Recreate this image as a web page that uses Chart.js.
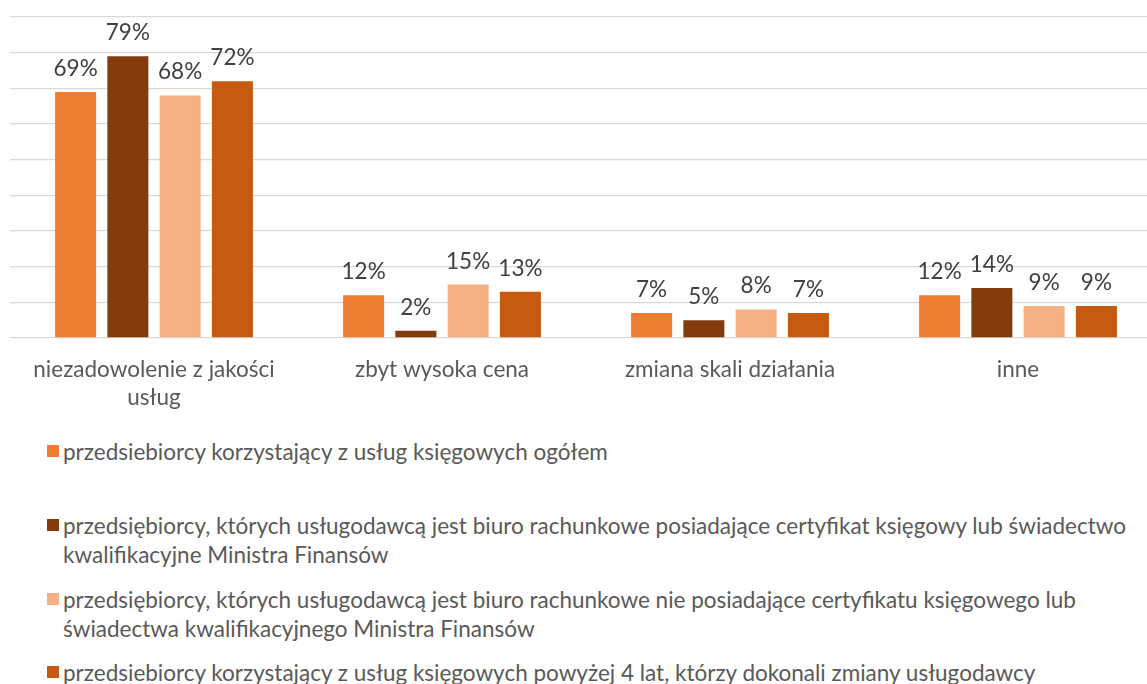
<!DOCTYPE html>
<html lang="pl">
<head>
<meta charset="utf-8">
<script src="https://cdn.jsdelivr.net/npm/chart.js@4.4.0/dist/chart.umd.min.js"></script>
<style>
  body { margin: 0; background: #fff; overflow: hidden; font-family: Lato, "Open Sans", sans-serif; }
  #wrap { position: relative; width: 1147px; height: 684px; overflow: hidden; }
  #myChart { position: absolute; left: 0; top: 0; }
  #legend { position: absolute; left: 47px; top: 0; width: 1085px; color: #595959; font-size: 22.5px; line-height: 29px; }
  .item { position: absolute; left: 0; padding-left: 16px; }
  .box { position: absolute; left: 0; top: 8px; width: 12px; height: 12px; }
</style>
</head>
<body>
<div id="wrap">
  <canvas id="myChart" width="1165" height="420"></canvas>
  <div id="legend"></div>
</div>
<script>
// kategorie i wartosci (%)
const categories = [['niezadowolenie z jakości', 'usług'], 'zbyt wysoka cena', 'zmiana skali działania', 'inne'];
const seriesNames = [
  'przedsiebiorcy korzystający z usług księgowych ogółem',
  'przedsiębiorcy, których usługodawcą jest biuro rachunkowe posiadające certyfikat księgowy lub świadectwo kwalifikacyjne Ministra Finansów',
  'przedsiębiorcy, których usługodawcą jest biuro rachunkowe nie posiadające certyfikatu księgowego lub świadectwa kwalifikacyjnego Ministra Finansów',
  'przedsiebiorcy korzystający z usług księgowych powyżej 4 lat, którzy dokonali zmiany usługodawcy'
];
const ogolem = [69, 12, 7, 12];
const zCertyfikatem = [79, 2, 5, 14];
const bezCertyfikatu = [68, 15, 8, 9];
const powyzej4Lat = [72, 13, 7, 9];
const colors = ['#ED7D31', '#843C0C', '#F4B183', '#C55A11'];
const legendTops = [437, 511, 585, 658];

const seriesValues = [ogolem, zCertyfikatem, bezCertyfikatu, powyzej4Lat];

// etykiety z wartoscia nad slupkami
const valueLabels = {
  id: 'valueLabels',
  afterDatasetsDraw(chart) {
    const ctx = chart.ctx;
    ctx.save();
    ctx.font = '22.5px Lato, "Open Sans", sans-serif';
    ctx.fillStyle = '#404040';
    ctx.textAlign = 'center';
    ctx.textBaseline = 'alphabetic';
    chart.data.datasets.forEach((ds, i) => {
      chart.getDatasetMeta(i).data.forEach((bar, j) => {
        ctx.fillText(ds.data[j] + '%', bar.x, bar.y - 16);
      });
    });
    ctx.restore();
  }
};

const ctx = document.getElementById('myChart').getContext('2d');
const myChart = new Chart(ctx, {
  type: 'bar',
  data: {
    labels: categories,
    datasets: seriesValues.map((vals, i) => ({
      label: seriesNames[i],
      data: vals,
      backgroundColor: colors[i],
      borderWidth: 0,
      categoryPercentage: 0.726,
      barPercentage: 0.785
    }))
  },
  options: {
    responsive: false,
    animation: false,
    layout: { padding: { left: 10, top: 17, right: 3, bottom: 0 } },
    plugins: { legend: { display: false }, tooltip: { enabled: false } },
    scales: {
      x: {
        grid: { display: false, drawTicks: false },
        border: { display: false },
        ticks: {
          color: '#595959',
          padding: 18,
          font: { family: 'Lato, "Open Sans", sans-serif', size: 22.5, lineHeight: 1.25 }
        },
        afterFit(scale) { scale.height = 82; }
      },
      y: {
        min: 0,
        max: 90,
        ticks: { display: false, stepSize: 10 },
        grid: { color: '#D9D9D9', lineWidth: 1.3, drawTicks: false },
        border: { display: false },
        afterFit(scale) { scale.width = 0; }
      }
    }
  },
  plugins: [valueLabels]
});

// legenda pod wykresem
const legend = document.getElementById('legend');
seriesNames.forEach((name, i) => {
  const item = document.createElement('div');
  item.className = 'item';
  item.style.top = legendTops[i] + 'px';
  item.innerHTML = '<span class="box" style="background:' + colors[i] + '"></span>' + name;
  legend.appendChild(item);
});
</script>
</body>
</html>
